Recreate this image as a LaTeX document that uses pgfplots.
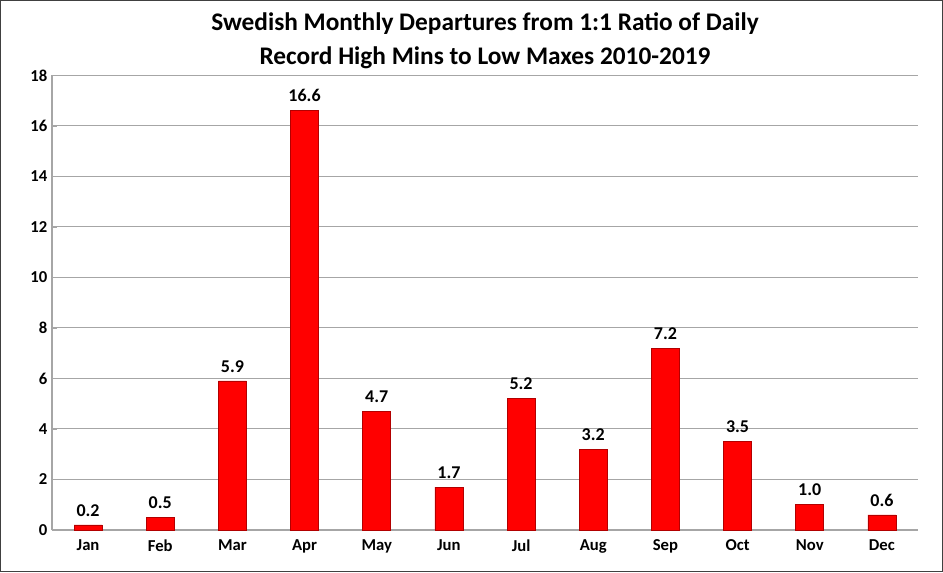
\documentclass[border=0pt]{standalone}
\usepackage{pgfplots}
\pgfplotsset{compat=1.18}
\usepackage{fontspec}
\setmainfont{Carlito}
\begin{document}
\begin{tikzpicture}
\path[use as bounding box] (-39pt,-31.5pt) rectangle (668.25pt,397.5pt);
\draw[line width=1pt, black!75] (-38.5pt,-31pt) rectangle (667.75pt,397pt);
\begin{axis}[
  at={(0,0)}, anchor=south west,
  scale only axis, width=649.5pt, height=341pt,
  ymin=0, ymax=18, ytick={0,2,...,18},
  xmin=-0.5, xmax=11.5, xtick={0,...,11},
  xticklabels={Jan,Feb,Mar,Apr,May,Jun,Jul,Aug,Sep,Oct,Nov,Dec},
  ymajorgrids, grid style={gray!70, line width=0.8pt},
  axis line style={gray!70, line width=0.8pt},
  axis x line*=bottom, axis y line*=left,
  major tick length=4pt, tick style={gray!70},
  xtick style={draw=none},
  tick label style={font=\bfseries\fontsize{12.5}{14}\selectfont},
  /pgf/number format/assume math mode=true,
  ybar, bar width=21pt,
  nodes near coords, nodes near coords style={font=\bfseries\fontsize{13.5}{15}\selectfont, yshift=3pt, /pgf/number format/.cd, fixed, fixed zerofill, precision=1},
]
\addplot[fill=red, draw=red!70!black] coordinates {
(0,0.2) (1,0.5) (2,5.9) (3,16.6) (4,4.7) (5,1.7) (6,5.2) (7,3.2) (8,7.2) (9,3.5) (10,1.0) (11,0.6)};
\end{axis}
\node[font=\bfseries\fontsize{19}{21}\selectfont] at (324.75pt,380pt) {Swedish Monthly Departures from 1:1 Ratio of Daily};
\node[font=\bfseries\fontsize{19}{21}\selectfont] at (324.75pt,354pt) {Record High Mins to Low Maxes 2010-2019};
\end{tikzpicture}
\end{document}
